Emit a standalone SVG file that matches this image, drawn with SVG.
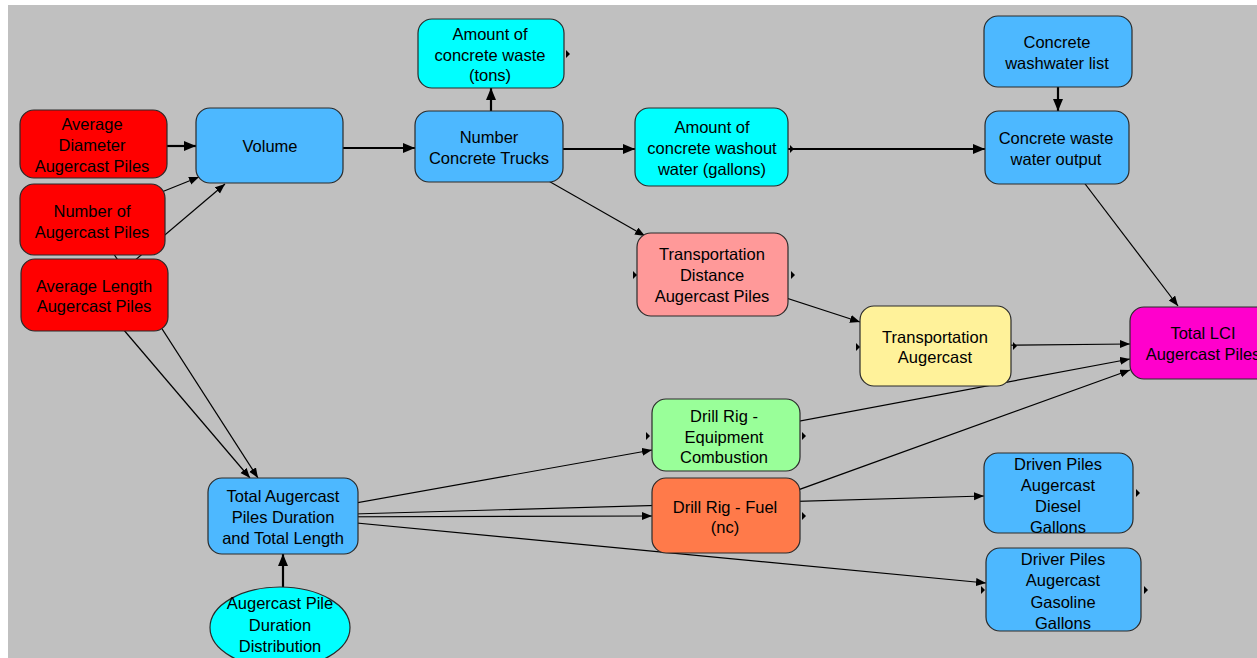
<svg xmlns="http://www.w3.org/2000/svg" width="1257" height="658" viewBox="0 0 1257 658">
  <style>
    .node rect, .node ellipse { stroke: #2a2a2a; stroke-width: 1.2; }
    .node text { font-family: "Liberation Sans", Arial, sans-serif; font-size: 16.5px; fill: #000; text-anchor: middle; }
    .blue { fill: #4DB8FF; }
    .cyan { fill: #00FFFF; }
    .red { fill: #FF0000; }
    .pink { fill: #FF9999; }
    .yellow { fill: #FFF29A; }
    .green { fill: #99FF99; }
    .coral { fill: #FF7A4A; }
    .magenta { fill: #FF00CC; }
    .thick { stroke: #000; stroke-width: 2.2; fill: none; marker-end: url(#arrowThick); }
    .thin { stroke: #000; stroke-width: 1.2; fill: none; marker-end: url(#arrowThin); }
    .port { fill: #000; }
  </style>
  <defs>
    <marker id="arrowThick" markerUnits="userSpaceOnUse" markerWidth="13" markerHeight="11" refX="12" refY="5" orient="auto">
      <path d="M0,0 L12,5 L0,10 Z" fill="#000"/>
    </marker>
    <marker id="arrowThin" markerUnits="userSpaceOnUse" markerWidth="11" markerHeight="9" refX="10" refY="4" orient="auto">
      <path d="M0,0 L10,4 L0,8 Z" fill="#000"/>
    </marker>
    <path id="port" d="M0,-4 L4,0 L0,4 Z"/>
  </defs>

  <!-- canvas -->
  <rect x="0" y="0" width="1257" height="658" fill="#FFFFFF"/>
  <rect x="8" y="5" width="1249" height="653" fill="#C0C0C0"/>

  <!-- links between elements -->
  <g id="connectors">
    <path class="thick" d="M167,146 L196,146"/>
    <path class="thin" d="M92,220 L199,177"/>
    <path class="thin" d="M94,295 L225,184"/>
    <path class="thin" d="M92,220 L258,478"/>
    <path class="thin" d="M94,295 L250,478"/>
    <path class="thick" d="M343,148 L415,148"/>
    <path class="thick" d="M491,111 L491,88"/>
    <path class="thick" d="M563,149 L635,149"/>
    <path class="thick" d="M788,149 L985,149"/>
    <path class="thick" d="M1058,87 L1058,111"/>
    <path class="thin" d="M489,147 L645,236"/>
    <path class="thin" d="M712,274 L860,322"/>
    <path class="thin" d="M1057,147 L1178,306"/>
    <path class="thin" d="M935,346 L1130,344"/>
    <path class="thin" d="M726,435 L1130,359"/>
    <path class="thin" d="M726,516 L1130,370"/>
    <path class="thin" d="M283,516 L652,450"/>
    <path class="thin" d="M283,517 L652,516"/>
    <path class="thin" d="M283,516 L984,496"/>
    <path class="thin" d="M283,516 L986,583"/>
    <path class="thick" d="M283,587 L283,554"/>
  </g>

  <g id="avg-diameter" class="node">
    <rect class="red" x="20" y="110" width="147" height="68" rx="14"/>
    <text x="92" y="130">Average</text>
    <text x="92" y="151">Diameter</text>
    <text x="92" y="172">Augercast Piles</text>
  </g>
  <g id="number-piles" class="node">
    <rect class="red" x="20" y="184" width="145" height="71" rx="14"/>
    <text x="92" y="217">Number of</text>
    <text x="92" y="238">Augercast Piles</text>
  </g>
  <g id="avg-length" class="node">
    <rect class="red" x="21" y="259" width="147" height="72" rx="14"/>
    <text x="94" y="292">Average Length</text>
    <text x="94" y="312">Augercast Piles</text>
  </g>
  <g id="volume" class="node">
    <rect class="blue" x="196" y="108" width="147" height="75" rx="14"/>
    <text x="270" y="152">Volume</text>
  </g>
  <g id="concrete-waste" class="node">
    <rect class="cyan" x="418" y="19" width="146" height="69" rx="14"/>
    <text x="490" y="40">Amount of</text>
    <text x="490" y="61">concrete waste</text>
    <text x="490" y="81">(tons)</text>
  </g>
  <g id="concrete-trucks" class="node">
    <rect class="blue" x="415" y="111" width="148" height="71" rx="14"/>
    <text x="489" y="143">Number</text>
    <text x="489" y="164">Concrete Trucks</text>
  </g>
  <g id="washout-water" class="node">
    <rect class="cyan" x="635" y="108" width="153" height="78" rx="14"/>
    <text x="712" y="133">Amount of</text>
    <text x="712" y="154">concrete washout</text>
    <text x="712" y="175">water (gallons)</text>
  </g>
  <g id="washwater-list" class="node">
    <rect class="blue" x="984" y="16" width="148" height="71" rx="14"/>
    <text x="1057" y="48">Concrete</text>
    <text x="1057" y="69">washwater list</text>
  </g>
  <g id="waste-water-output" class="node">
    <rect class="blue" x="985" y="111" width="144" height="73" rx="14"/>
    <text x="1056" y="144">Concrete waste</text>
    <text x="1056" y="165">water output</text>
  </g>
  <g id="transport-distance" class="node">
    <rect class="pink" x="637" y="233" width="151" height="83" rx="14"/>
    <text x="712" y="260">Transportation</text>
    <text x="712" y="281">Distance</text>
    <text x="712" y="302">Augercast Piles</text>
  </g>
  <g id="transport-augercast" class="node">
    <rect class="yellow" x="860" y="306" width="151" height="80" rx="14"/>
    <text x="935" y="343">Transportation</text>
    <text x="935" y="363">Augercast</text>
  </g>
  <g id="total-lci" class="node">
    <rect class="magenta" x="1130" y="307" width="147" height="72" rx="14"/>
    <text x="1203" y="339">Total LCI</text>
    <text x="1203" y="360">Augercast Piles</text>
  </g>
  <g id="drill-rig-combustion" class="node">
    <rect class="green" x="652" y="399" width="148" height="72" rx="14"/>
    <text x="724" y="422">Drill Rig -</text>
    <text x="724" y="443">Equipment</text>
    <text x="724" y="463">Combustion</text>
  </g>
  <g id="drill-rig-fuel" class="node">
    <rect class="coral" x="652" y="478" width="148" height="75" rx="14"/>
    <text x="725" y="513">Drill Rig - Fuel</text>
    <text x="725" y="533">(nc)</text>
  </g>
  <g id="driven-diesel" class="node">
    <rect class="blue" x="984" y="453" width="149" height="80" rx="14"/>
    <text x="1058" y="470">Driven Piles</text>
    <text x="1058" y="491">Augercast</text>
    <text x="1058" y="512">Diesel</text>
    <text x="1058" y="533">Gallons</text>
  </g>
  <g id="driver-gasoline" class="node">
    <rect class="blue" x="986" y="548" width="155" height="83" rx="14"/>
    <text x="1063" y="565">Driver Piles</text>
    <text x="1063" y="586">Augercast</text>
    <text x="1063" y="608">Gasoline</text>
    <text x="1063" y="629">Gallons</text>
  </g>
  <g id="total-duration-length" class="node">
    <rect class="blue" x="208" y="478" width="150" height="76" rx="14"/>
    <text x="283" y="502">Total Augercast</text>
    <text x="283" y="523">Piles Duration</text>
    <text x="283" y="544">and Total Length</text>
  </g>
  <g id="duration-distribution" class="node">
    <ellipse class="cyan" cx="280" cy="627.5" rx="70" ry="40.5"/>
    <text x="280" y="609">Augercast Pile</text>
    <text x="280" y="631">Duration</text>
    <text x="280" y="652">Distribution</text>
  </g>

  <!-- side port markers -->
  <g id="ports" class="port">
    <use href="#port" x="566" y="54"/>
    <use href="#port" x="790" y="149"/>
    <use href="#port" x="633" y="275"/>
    <use href="#port" x="791" y="275"/>
    <use href="#port" x="856" y="347"/>
    <use href="#port" x="1013" y="346"/>
    <use href="#port" x="646" y="436"/>
    <use href="#port" x="802" y="436"/>
    <use href="#port" x="802" y="516"/>
    <use href="#port" x="1136" y="493"/>
    <use href="#port" x="981" y="590"/>
    <use href="#port" x="1144" y="590"/>
  </g>
</svg>
